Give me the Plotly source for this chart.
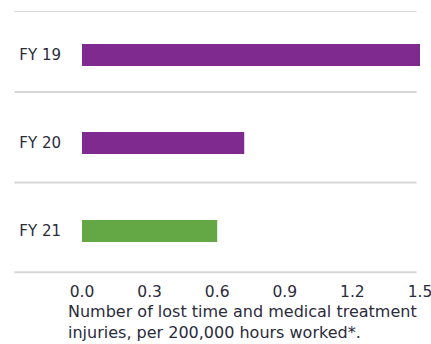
import plotly.graph_objects as go

# Injury frequency rate by financial year
years = ["FY 19", "FY 20", "FY 21"]
rates = [1.5, 0.72, 0.60]
bar_colors = ["#7f2a8e", "#7f2a8e", "#63a845"]

x_ticks = [0.0, 0.3, 0.6, 0.9, 1.2, 1.5]
x_tick_labels = ["0.0", "0.3", "0.6", "0.9", "1.2", "1.5"]

# horizontal separators between the year rows (category index units)
separators = [-0.5, 0.42, 1.45, 2.47]

text_color = "#2b2b3b"
font_family = "DejaVu Sans, sans-serif"

fig = go.Figure(
    go.Bar(
        x=rates,
        y=years,
        orientation="h",
        width=0.25,
        marker=dict(color=bar_colors, line=dict(width=0)),
        hoverinfo="x+y",
    )
)

for s in separators:
    fig.add_shape(
        type="line",
        xref="paper", yref="y",
        x0=-0.2, x1=0.99, y0=s, y1=s,
        line=dict(color="#d6d6d6", width=2),
        layer="below",
    )

fig.add_annotation(
    text="Number of lost time and medical treatment<br>injuries, per 200,000 hours worked*.",
    xref="paper", yref="paper",
    x=-0.046, y=-0.095,
    xanchor="left", yanchor="top",
    align="left",
    showarrow=False,
    font=dict(family=font_family, size=16, color=text_color),
)

fig.update_layout(
    width=431, height=344,
    margin=dict(l=82, r=11, t=11, b=69),
    paper_bgcolor="white",
    plot_bgcolor="white",
    showlegend=False,
    xaxis=dict(
        range=[0, 1.5],
        tickvals=x_ticks,
        ticktext=x_tick_labels,
        automargin=False,
        ticklabeloverflow="allow",
        showgrid=False,
        zeroline=False,
        showline=False,
        ticks="",
        ticklabelstandoff=5,
        tickfont=dict(family=font_family, size=15.5, color=text_color),
        fixedrange=True,
    ),
    yaxis=dict(
        type="category",
        categoryorder="array",
        categoryarray=years,
        autorange=False,
        range=[2.5, -0.5],
        automargin=False,
        showgrid=False,
        zeroline=False,
        showline=False,
        ticks="",
        ticklabelstandoff=20,
        tickfont=dict(family=font_family, size=15, color=text_color),
        fixedrange=True,
    ),
)

fig.write_html("out.html")
